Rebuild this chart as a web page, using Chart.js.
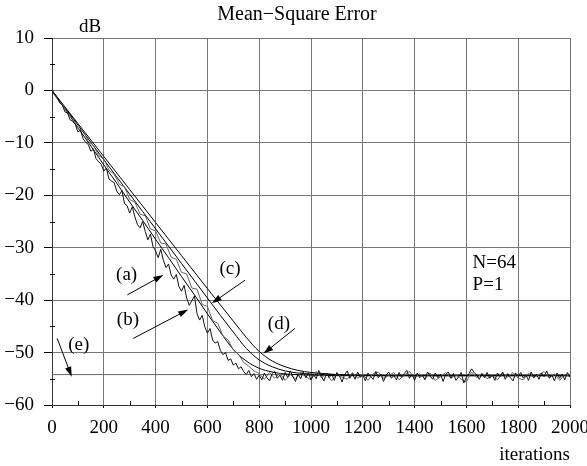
<!DOCTYPE html>
<html>
<head>
<meta charset="utf-8">
<script src="https://cdn.jsdelivr.net/npm/chart.js@4/dist/chart.umd.min.js"></script>
<style>
  body { margin: 0; background: #fff; }
  canvas { display: block; }
</style>
</head>
<body>
<canvas id="mse" width="587" height="466"></canvas>
<script>
// curve (a): noisy simulation, one value every 10 iterations
const passoA = 10;
const curvaA = [
  0, -0.9, -1.3, -2.4, -2.8, -4.1, -4.3, -5.6, -5.9, -6.5,
  -7.9, -7.6, -9.2, -9.9, -10.3, -11.6, -11.2, -13.0, -13.6, -14.1,
  -15.4, -14.8, -16.9, -17.3, -17.6, -19.2, -19.9, -19.1, -21.6, -22.0,
  -23.4, -22.2, -24.1, -25.6, -26.2, -25.0, -26.9, -28.5, -27.4, -29.8,
  -30.6, -31.9, -30.3, -32.4, -33.8, -33.1, -35.2, -36.0, -35.1, -37.4,
  -38.3, -37.2, -39.6, -41.0, -40.1, -39.2, -42.6, -43.8, -42.9, -45.1,
  -46.3, -45.4, -47.6, -48.2, -47.9, -49.6, -50.4, -50.0, -51.5, -51.2,
  -52.4, -52.0, -53.1, -52.7, -53.6, -54.2, -53.4, -54.6, -54.0, -55.1,
  -54.3,
  -55.2, -53.9, -54.8, -55.4, -54.0, -53.6, -54.9, -54.3, -55.3, -53.8,
  -54.7, -53.5, -54.6, -55.5, -54.1, -55.0, -53.7, -54.8, -53.9, -55.2,
  -54.2, -55.0, -53.4, -54.6, -55.4, -53.9, -54.8, -54.1, -55.3, -53.8,
  -54.5, -55.6, -54.2, -53.5, -54.9, -54.0, -55.1, -53.7, -54.7, -54.3,
  -55.4, -53.9, -54.6, -55.1, -53.6, -54.8, -54.1, -55.5, -54.3, -53.7,
  -54.9, -54.4, -55.2, -53.8, -54.7, -54.0, -53.4, -54.9, -54.2, -55.3,
  -53.9, -54.8, -54.3, -55.2, -53.7, -54.5, -55.1, -53.9, -54.8, -54.1,
  -55.5, -54.2, -53.7, -54.9, -54.0, -55.3, -54.6, -53.8, -55.8, -54.7,
  -54.0, -53.1, -53.8, -54.3, -55.1, -54.0, -54.8, -53.8, -54.9, -54.3,
  -55.3, -53.9, -54.6, -53.7, -55.1, -54.0, -54.8, -55.4, -53.9, -54.5,
  -53.8, -54.9, -54.3, -55.3, -53.7, -54.8, -54.1, -55.1, -53.9, -54.6,
  -53.5, -54.8, -54.3, -55.4, -53.9, -54.9, -54.1, -55.2, -53.8, -54.7
];

// curve (b): second noisy run, one value every 20 iterations
const passoB = 20;
const curvaB = [
  0, -1.6, -2.6, -4.4, -5.4, -7.3, -7.6, -9.7, -10.5, -12.4,
  -13.1, -15.2, -16.0, -17.9, -18.4, -20.8, -21.3, -23.6, -23.9, -26.4,
  -26.8, -29.1, -29.3, -31.8, -32.2, -34.7, -35.0, -37.7, -37.9, -40.8,
  -41.2, -43.9, -44.4, -46.8, -47.6, -49.5, -50.3, -51.9, -52.6, -53.5,
  -54.0,
  -55.1, -53.8, -54.9, -53.9, -55.3, -54.2, -55.0, -53.7, -54.6, -55.2,
  -53.6, -54.8, -54.1, -55.4, -54.0, -54.7, -55.1, -53.8, -54.9, -54.2,
  -55.3, -54.0, -53.7, -54.9, -54.4, -53.8, -55.2, -54.3, -53.6, -54.8,
  -54.1, -55.0, -53.9, -55.3, -54.6, -53.8, -54.9, -54.2, -55.1, -55.6,
  -53.7, -54.8, -54.0, -55.0, -54.3, -55.2, -53.9, -54.7, -53.8, -54.9,
  -55.2, -53.9, -54.8, -54.2, -53.6, -54.9, -54.1, -55.3, -54.2, -54.6
];

// smooth (theoretical) curves
const iterLisce = [0, 50, 100, 150, 200, 250, 300, 350, 400, 450, 500, 550, 600, 650, 700, 750, 800, 850, 900, 950, 1000, 1050, 1100, 1200, 1300, 1500, 2000];
const curvaT1 = [0, -3.5, -7.1, -10.6, -14.2, -17.7, -21.3, -24.8, -28.4, -31.9, -35.5, -39.0, -42.6, -46.1, -49.4, -51.6, -53.0, -53.7, -54.1, -54.2, -54.3, -54.35, -54.4, -54.4, -54.4, -54.4, -54.4];
const curvaC  = [0, -3.3, -6.6, -9.9, -13.2, -16.5, -19.8, -23.1, -26.4, -29.7, -33.0, -36.3, -39.6, -42.9, -46.1, -49.2, -51.4, -52.7, -53.5, -53.9, -54.1, -54.2, -54.3, -54.4, -54.4, -54.4, -54.4];
const curvaD  = [0, -3.15, -6.3, -9.45, -12.6, -15.75, -18.9, -22.05, -25.2, -28.35, -31.5, -34.65, -37.8, -40.9, -44.0, -47.1, -49.8, -51.6, -52.7, -53.4, -53.8, -54.0, -54.2, -54.35, -54.4, -54.4, -54.4];

// floor line (e)
const livelloE = -54.2;

// axes
const xMin = 0, xMax = 2000, xPasso = 200;
const yMin = -60, yMax = 10, yPasso = 10;

// annotations: label position and arrow (from -> tip), in data units
const etichette = [
  { testo: '(a)', x: 288, y: -35.2, da: [291, -39.0], a: [430, -35.2] },
  { testo: '(b)', x: 293, y: -43.8, da: [314, -47.3], a: [526, -41.8] },
  { testo: '(c)', x: 687, y: -34.1, da: [745, -36.2], a: [617, -40.6] },
  { testo: '(d)', x: 876, y: -44.6, da: [938, -45.4], a: [816, -50.2] },
  { testo: '(e)', x: 103, y: -48.6, da: [20, -47.3], a: [76, -54.6] }
];
const note = [
  { testo: 'N=64', x: 1624, y: -33.0 },
  { testo: 'P=1', x: 1624, y: -37.1 }
];

function punti(valori, passo) {
  return valori.map((v, i) => ({ x: i * passo, y: v }));
}
function puntiXY(xs, ys) {
  return xs.map((x, i) => ({ x: x, y: ys[i] }));
}

Chart.defaults.font.family = "'Liberation Serif', 'Times New Roman', serif";
Chart.defaults.color = '#000';

const FONT = "19px 'Liberation Serif', serif";

function freccia(ctx, x1, y1, x2, y2) {
  const ang = Math.atan2(y2 - y1, x2 - x1);
  const lung = 10, larg = 3.2;
  ctx.beginPath();
  ctx.moveTo(x1, y1);
  ctx.lineTo(x2 - lung * 0.8 * Math.cos(ang), y2 - lung * 0.8 * Math.sin(ang));
  ctx.stroke();
  ctx.beginPath();
  ctx.moveTo(x2, y2);
  ctx.lineTo(x2 - lung * Math.cos(ang) + larg * Math.sin(ang), y2 - lung * Math.sin(ang) - larg * Math.cos(ang));
  ctx.lineTo(x2 - lung * Math.cos(ang) - larg * Math.sin(ang), y2 - lung * Math.sin(ang) + larg * Math.cos(ang));
  ctx.closePath();
  ctx.fill();
}

const pluginNote = {
  id: 'note',
  afterDatasetsDraw(chart) {
    const ctx = chart.ctx;
    const xs = chart.scales.x, ys = chart.scales.y;
    const area = chart.chartArea;
    ctx.save();
    ctx.strokeStyle = '#000';
    ctx.fillStyle = '#000';
    ctx.lineWidth = 1;

    // minor ticks
    ctx.beginPath();
    for (let v = yMin + yPasso / 2; v < yMax; v += yPasso) {
      const py = Math.round(ys.getPixelForValue(v)) + 0.5;
      ctx.moveTo(area.left - 2, py);
      ctx.lineTo(area.left + 3, py);
    }
    for (let v = xMin + xPasso / 2; v < xMax; v += xPasso) {
      const px = Math.round(xs.getPixelForValue(v)) + 0.5;
      ctx.moveTo(px, area.bottom);
      ctx.lineTo(px, area.bottom - 4);
    }
    ctx.stroke();

    // arrows
    etichette.forEach(e => {
      freccia(ctx,
        xs.getPixelForValue(e.da[0]), ys.getPixelForValue(e.da[1]),
        xs.getPixelForValue(e.a[0]), ys.getPixelForValue(e.a[1]));
    });

    // labels
    ctx.font = FONT;
    ctx.textBaseline = 'middle';
    ctx.textAlign = 'center';
    etichette.forEach(e => {
      ctx.fillText(e.testo, xs.getPixelForValue(e.x), ys.getPixelForValue(e.y));
    });
    ctx.textAlign = 'left';
    note.forEach(n => {
      ctx.fillText(n.testo, xs.getPixelForValue(n.x), ys.getPixelForValue(n.y));
    });

    // title and axis names
    ctx.textBaseline = 'alphabetic';
    ctx.textAlign = 'center';
    ctx.font = "20px 'Liberation Serif', serif";
    ctx.fillText('Mean\u2212Square Error', area.left + 245, 20);
    ctx.font = FONT;
    ctx.fillText('dB', area.left + 38, 32);
    ctx.textAlign = 'right';
    ctx.fillText('iterations', area.right, 460);
    ctx.restore();
  }
};

const ctx = document.getElementById('mse').getContext('2d');
const grafico = new Chart(ctx, {
  type: 'line',
  data: {
    datasets: [
      { label: '(a)', data: punti(curvaA, passoA), borderColor: '#111', borderWidth: 1, order: 1 },
      { label: '(b)', data: punti(curvaB, passoB), borderColor: '#666', borderWidth: 1, order: 2 },
      { label: 'T1', data: puntiXY(iterLisce, curvaT1), borderColor: '#000', borderWidth: 1, cubicInterpolationMode: 'monotone', order: 3 },
      { label: '(c)', data: puntiXY(iterLisce, curvaC), borderColor: '#000', borderWidth: 1, cubicInterpolationMode: 'monotone', order: 3 },
      { label: '(d)', data: puntiXY(iterLisce, curvaD), borderColor: '#000', borderWidth: 1, cubicInterpolationMode: 'monotone', order: 3 },
      { label: '(e)', data: [{ x: xMin, y: livelloE }, { x: xMax, y: livelloE }], borderColor: '#666', borderWidth: 1, order: 4 }
    ]
  },
  options: {
    responsive: false,
    animation: false,
    events: [],
    elements: { point: { radius: 0 }, line: { tension: 0 } },
    layout: { padding: { top: 38, right: 17, left: 0, bottom: 0 } },
    plugins: {
      legend: { display: false },
      tooltip: { enabled: false },
      title: { display: false }
    },
    scales: {
      x: {
        type: 'linear',
        min: xMin,
        max: xMax,
        grid: { color: '#777', lineWidth: 1, tickLength: 3, tickColor: '#000' },
        border: { color: '#333' },
        ticks: {
          stepSize: xPasso,
          autoSkip: false,
          maxRotation: 0,
          padding: 9,
          font: { size: 19 },
          callback: v => String(v)
        },
        afterFit(scale) {
          scale.height = 61;
          scale.paddingLeft = 0;
          scale.paddingRight = 0;
        }
      },
      y: {
        min: yMin,
        max: yMax,
        grid: { color: '#777', lineWidth: 1, tickLength: 8, tickColor: '#000' },
        border: { color: '#333' },
        ticks: {
          stepSize: yPasso,
          padding: 10,
          font: { size: 19 },
          callback: v => String(v).replace('-', '\u2212')
        },
        afterFit(scale) {
          scale.width = 52;
        }
      }
    }
  },
  plugins: [pluginNote]
});
</script>
</body>
</html>
